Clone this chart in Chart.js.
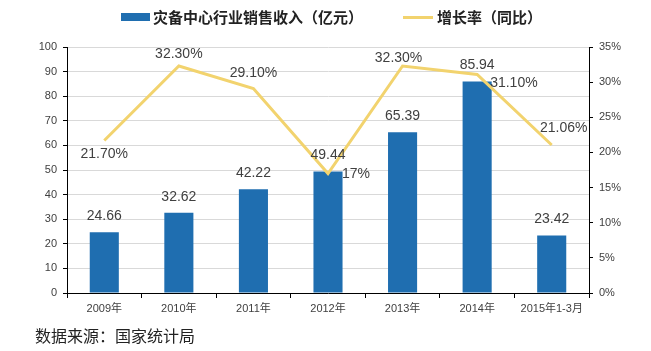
<!DOCTYPE html>
<html>
<head>
<meta charset="utf-8">
<script src="https://cdn.jsdelivr.net/npm/chart.js@4"></script>
<style>
  body { margin: 0; background: #fff; }
  #wrap { position: relative; width: 651px; height: 351px; }
  #legend { position: absolute; top: 7px; left: 121px; display: flex; align-items: center; font-family: "Noto Sans CJK SC"; font-weight: bold; font-size: 15px; line-height: 20px; color: #222; white-space: nowrap; }
  #legend i { display: inline-block; }
  #source { position: absolute; left: 35px; top: 325px; font-family: "Noto Sans CJK SC"; font-size: 16px; line-height: 20px; color: #222; }
</style>
</head>
<body>
<div id="wrap">
  <canvas id="grafico" width="651" height="351"></canvas>
  <div id="legend">
    <i style="width:29px;height:8px;background:#1f6eb0;margin-right:3px"></i><span>灾备中心行业销售收入（亿元）</span>
    <i style="width:30px;height:3px;background:#f2d36e;margin-left:40px;margin-right:4px"></i><span>增长率（同比）</span>
  </div>
  <div id="source">数据来源：国家统计局</div>
</div>
<script>
const categorias = ['2009年', '2010年', '2011年', '2012年', '2013年', '2014年', '2015年1-3月'];
const receita = [24.66, 32.62, 42.22, 49.44, 65.39, 85.94, 23.42];
const crescimento = [21.70, 32.30, 29.10, 17, 32.30, 31.10, 21.06];
const rotulosCrescimento = ['21.70%', '32.30%', '29.10%', '17%', '32.30%', '31.10%', '21.06%'];

const ctx = document.getElementById("grafico").getContext("2d");

// deslocamento dos rótulos da linha em relação ao ponto: [dx, dy, alinhamento]
const posRotulo = [[0, 14, 'center'], [0, -12, 'center'], [0, -15, 'center'], [14, 1, 'left'],
                   [-4, -8, 'center'], [13, 9, 'left'], [12, -17, 'center']];

const rotulos = {
  id: 'rotulos',
  afterDatasetsDraw(chart) {
    const c = chart.ctx;
    c.save();
    c.font = '14px "Liberation Sans"';
    c.fillStyle = '#404040';
    c.textBaseline = 'middle';
    chart.getDatasetMeta(1).data.forEach((bar, i) => {
      c.textAlign = 'center';
      c.fillText(receita[i].toFixed(2), bar.x, bar.y - 16);
    });
    chart.getDatasetMeta(0).data.forEach((pt, i) => {
      const [dx, dy, al] = posRotulo[i];
      c.textAlign = al;
      c.fillText(rotulosCrescimento[i], pt.x + dx, pt.y + dy);
    });
    c.restore();
  }
};

new Chart(ctx, {
  data: {
    labels: categorias,
    datasets: [{
      type: 'line',
      label: '增长率（同比）',
      data: crescimento,
      yAxisID: 'y1',
      borderColor: '#f2d36e',
      borderWidth: 3,
      pointRadius: 0,
      tension: 0,
      order: 0
    }, {
      type: 'bar',
      label: '灾备中心行业销售收入（亿元）',
      data: receita,
      yAxisID: 'y',
      backgroundColor: '#1f6eb0',
      barPercentage: 0.39,
      categoryPercentage: 1,
      order: 1
    }]
  },
  options: {
    responsive: false,
    animation: false,
    layout: { padding: { top: 47, right: 22, bottom: 33, left: 0 } },
    plugins: { legend: { display: false }, tooltip: { enabled: false } },
    scales: {
      x: {
        grid: { offset: true, drawOnChartArea: false, tickColor: '#000', tickLength: 5 },
        border: { color: '#000' },
        ticks: { color: '#404040', font: { size: 11, family: '"Liberation Sans", "Noto Sans CJK SC"' }, padding: 4, maxRotation: 0, autoSkip: false },
        afterFit(s) { s.height = 25; }
      },
      y: {
        min: 0, max: 100,
        ticks: { stepSize: 10, color: '#404040', font: { size: 11, family: '"Liberation Sans"' }, padding: 6 },
        grid: { color: '#d9d9d9', tickColor: '#000', tickLength: 4 },
        border: { color: '#000' },
        afterFit(s) { s.width = 67; }
      },
      y1: {
        position: 'right',
        min: 0, max: 35,
        ticks: { stepSize: 5, color: '#404040', font: { size: 11, family: '"Liberation Sans"' }, padding: 6, callback: v => v + '%' },
        grid: { drawOnChartArea: false, tickColor: '#000', tickLength: 4 },
        border: { color: '#000' },
        afterFit(s) { s.width = 40; }
      }
    }
  },
  plugins: [rotulos]
});
</script>
</body>
</html>
